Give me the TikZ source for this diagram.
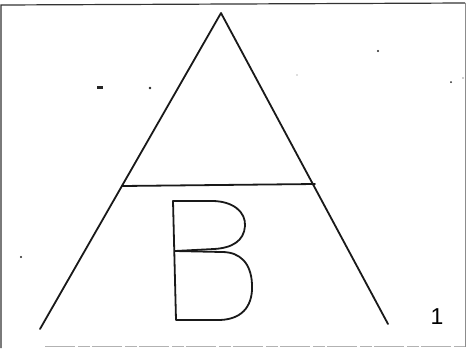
\documentclass[tikz,border=0pt]{standalone}
\usepackage{fontspec}
\setmainfont{Liberation Sans}
\begin{document}
\begin{tikzpicture}[x=1pt,y=-1pt,
  stroke/.style={line width=1.8pt,line cap=round,line join=round,black!90},
  speck/.style={fill=black!85,draw=none}]
\useasboundingbox (0,0) rectangle (466,349);
\fill[white] (0,0) rectangle (466,349);
% frame
\draw[line width=1.2pt,black!80] (1,348) -- (1,5) -- (465,3);
\draw[line width=0.8pt,black!45] (465,3) -- (465,347);
\draw[line width=1pt,black!30,dash pattern=on 30pt off 3pt on 12pt off 2pt] (45,346) -- (465,346);
% A
\coordinate (apex) at (221,13);
\coordinate (bl) at (40,329);
\coordinate (br) at (388,324);
\coordinate (cl) at (122,186);
\coordinate (cr) at (315,184);
\draw[stroke] (bl) -- (apex) -- (br);
\draw[stroke] (cl) -- (cr);
% B
\draw[stroke] (173,201) -- (176,320) -- (220,320)
  .. controls (245,319) and (253,303) .. (252,284)
  .. controls (251,263) and (240,252) .. (222,252)
  -- (175,251);
\draw[stroke] (173,201) -- (212,201)
  .. controls (233,201) and (246,212) .. (245,226)
  .. controls (244,241) and (232,248) .. (214,249)
  -- (175,251);
% label
\node[font=\fontsize{23}{24}\selectfont,inner sep=0pt] (one) at (437,316.5) {1};
% specks
\fill[speck] (97,86) rectangle (103,89);
\fill[speck] (150,88) circle (1.3pt);
\fill[speck] (378,51) circle (1.1pt);
\fill[speck] (451,82) circle (1pt);
\fill[speck] (21,257) circle (1.1pt);
\fill[black!40] (463,78) circle (0.8pt);
\fill[black!25] (297,75) circle (0.8pt);
\end{tikzpicture}
\end{document}
